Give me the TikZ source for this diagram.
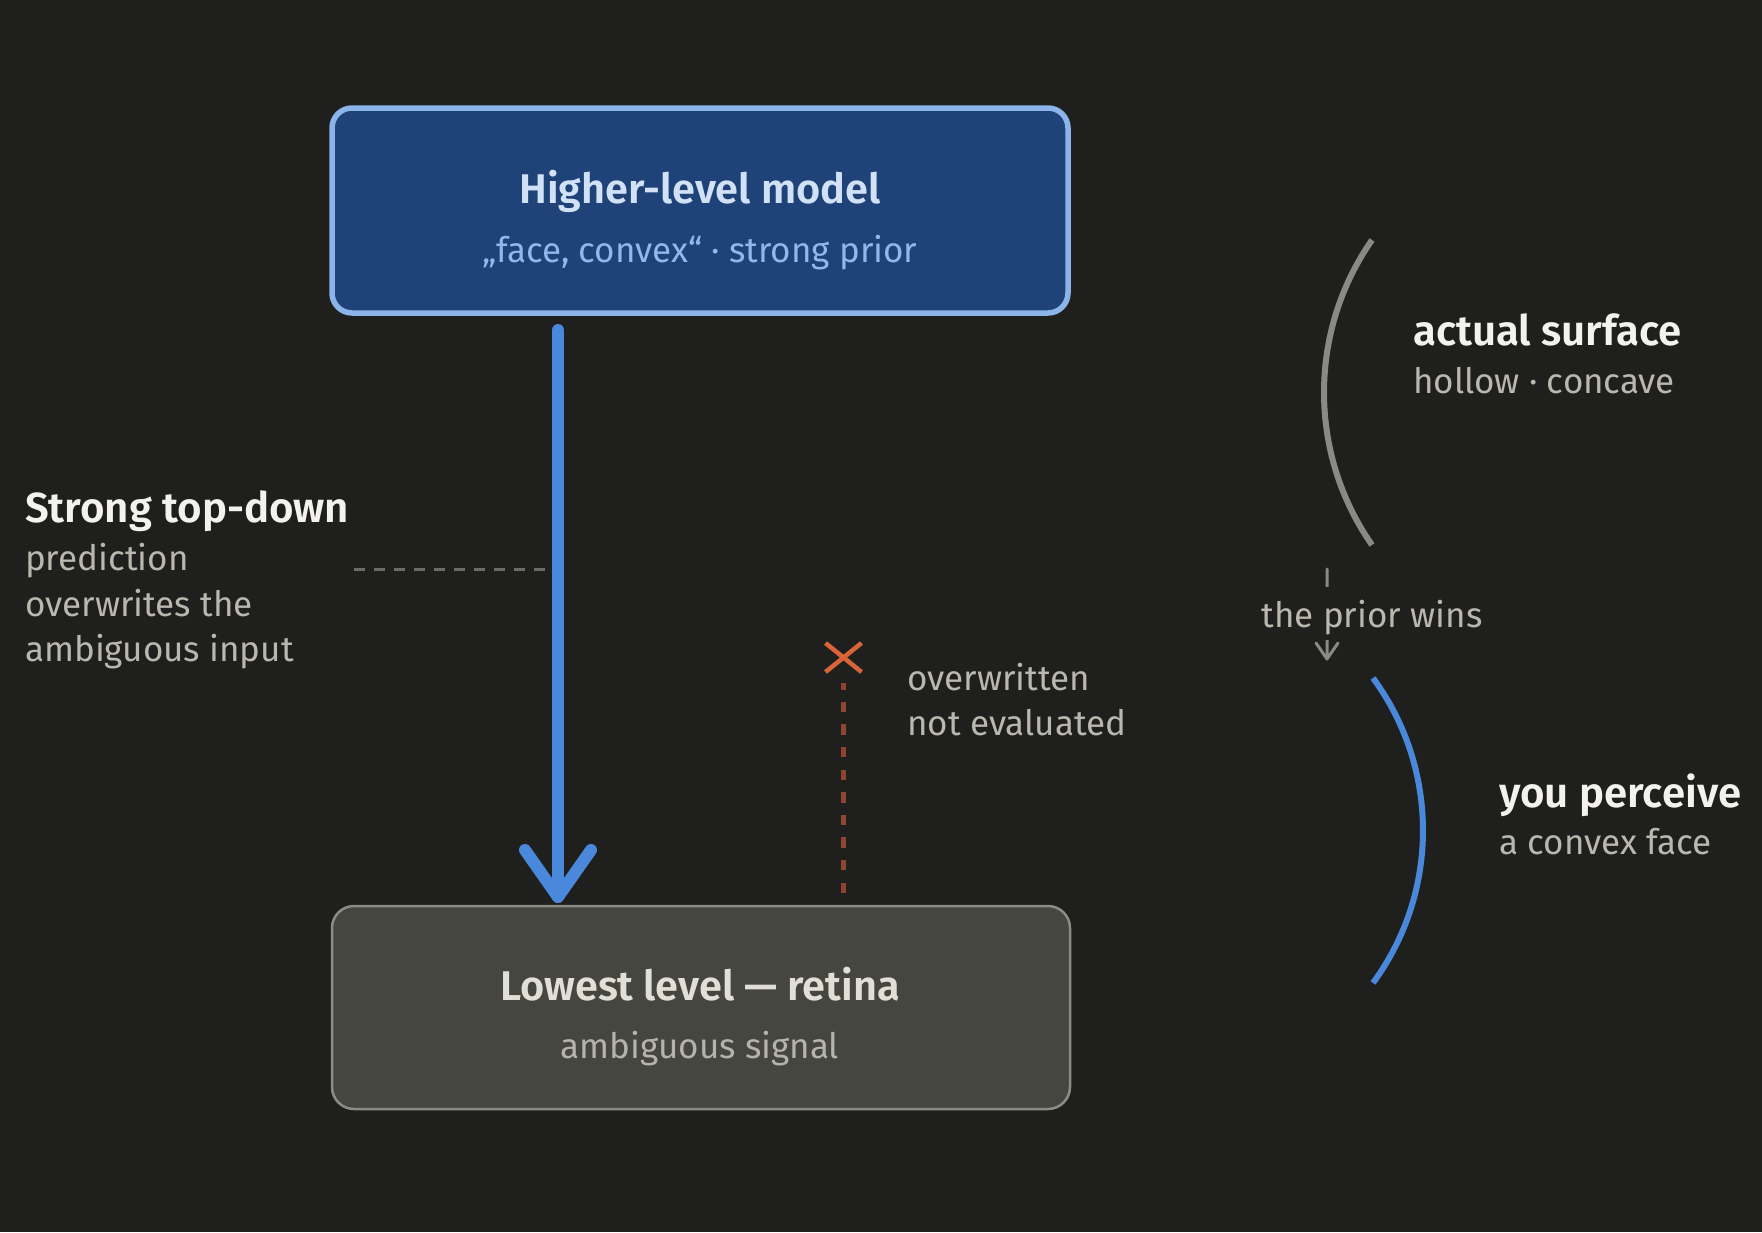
\documentclass[tikz,border=0pt]{standalone}
\usepackage{fontspec}
\setmainfont{Fira Sans}[BoldFont={Fira Sans SemiBold}]
\usetikzlibrary{arrows.meta}
\definecolor{bg}{HTML}{1F1F1E}
\definecolor{topfill}{HTML}{1F4278}
\definecolor{topborder}{HTML}{8AB4EA}
\definecolor{toptitle}{HTML}{D2E2F6}
\definecolor{topsub}{HTML}{8FB8EC}
\definecolor{bluec}{HTML}{4A88DC}
\definecolor{botfill}{HTML}{464641}
\definecolor{botborder}{HTML}{8C8B85}
\definecolor{bottitle}{HTML}{E2DFD7}
\definecolor{botsub}{HTML}{B6B3AB}
\definecolor{lblwhite}{HTML}{F4F2ED}
\definecolor{lblgray}{HTML}{BAB7AF}
\definecolor{dashgray}{HTML}{6B6B68}
\definecolor{redx}{HTML}{D8643A}
\definecolor{reddash}{HTML}{8E4630}
\definecolor{arcgray}{HTML}{8A8A85}
\begin{document}
\begin{tikzpicture}[x=1pt,y=-1pt,
  boxbase/.style={rectangle, inner sep=0pt},
  topbox/.style={boxbase, draw=topborder, fill=topfill, line width=5.5pt, rounded corners=20pt},
  botbox/.style={boxbase, draw=botborder, fill=botfill, line width=2.5pt, rounded corners=22pt},
  ttitle/.style={anchor=base, inner sep=0pt, font=\fontsize{41.5}{50}\selectfont\bfseries},
  tsub/.style={anchor=base, inner sep=0pt, font=\fontsize{35}{42}\selectfont},
  lblbold/.style={anchor=base west, inner sep=0pt, text=lblwhite, font=\fontsize{42}{50}\selectfont\bfseries},
  lblreg/.style={anchor=base west, inner sep=0pt, text=lblgray, font=\fontsize{35}{42}\selectfont},
  bigarrow/.style={draw=bluec, line width=12pt, line cap=round, line join=round},
]
\useasboundingbox[fill=bg] (0,0) rectangle (1762,1232);

% boxes
\node[topbox, minimum width=736pt, minimum height=205pt] (top) at (700,210.5) {};
\node[ttitle, text=toptitle] (toptext) at (700,203) {Higher-level model};
\node[tsub, text=topsub] (topsubtext) at (700,262) {„face, convex“ · strong prior};

\node[botbox, minimum width=738pt, minimum height=203pt] (bot) at (701,1007.5) {};
\node[ttitle, text=bottitle] (bottext) at (700,1000) {Lowest level — retina};
\node[tsub, text=botsub] (botsubtext) at (700,1058) {ambiguous signal};

% main arrow
\coordinate (a0) at (558,330);
\coordinate (a1) at (558,897);
\draw[bigarrow] (a0) -- (a1);
\draw[bigarrow] ([xshift=-33pt,yshift=47pt]a1) -- (a1) -- ([xshift=33pt,yshift=47pt]a1);

% left label
\node[lblbold] (l1) at (25,522) {Strong top-down};
\node[lblreg] (l2) at (25,570) {prediction};
\node[lblreg] (l3) at (25,616) {overwrites the};
\node[lblreg] (l4) at (25,661) {ambiguous input};
\coordinate (d0) at (354,569);
\coordinate (d1) at (546,569);
\draw[dashgray, line width=3pt, dash pattern=on 11pt off 9pt] (d0) -- (d1);

% overwritten
\coordinate (r0) at (843,893);
\coordinate (r1) at (843,683);
\draw[reddash, line width=5pt, dash pattern=on 10.5pt off 12.1pt] (r0) -- (r1);
\coordinate (xc) at (843.5,657.5);
\draw[redx, line width=4.5pt] ([xshift=-18pt,yshift=-14.5pt]xc) -- ([xshift=18pt,yshift=14.5pt]xc)
  ([xshift=-18pt,yshift=14.5pt]xc) -- ([xshift=18pt,yshift=-14.5pt]xc);
\node[lblreg] (o1) at (907,690) {overwritten};
\node[lblreg] (o2) at (907,735) {not evaluated};

% right side
\draw[arcgray, line width=6pt] (1372,240) arc[start angle=214.94, end angle=145.06, radius=266.25];
\node[lblbold] (s1) at (1413,345) {actual surface};
\node[lblreg] (s2) at (1413,393) {hollow · concave};

\coordinate (p0) at (1327,569);
\coordinate (p1) at (1327,659);
\draw[arcgray, line width=3pt, line cap=round, line join=round] (p0) -- (p1)
  ([xshift=-11pt,yshift=16pt]p1) -- (p1) -- ([xshift=11pt,yshift=16pt]p1);
\node[anchor=base, inner sep=0pt, text height=40pt, text depth=13pt, fill=bg, text=lblgray,
  font=\fontsize{35}{42}\selectfont] (pw) at (1372,627) {the prior wins};

\draw[bluec, line width=6pt] (1373,678) arc[start angle=-36.3, end angle=36.3, radius=257.56];
\node[lblbold] (v1) at (1499,807) {you perceive};
\node[lblreg] (v2) at (1499,854) {a convex face};
\end{tikzpicture}
\end{document}
